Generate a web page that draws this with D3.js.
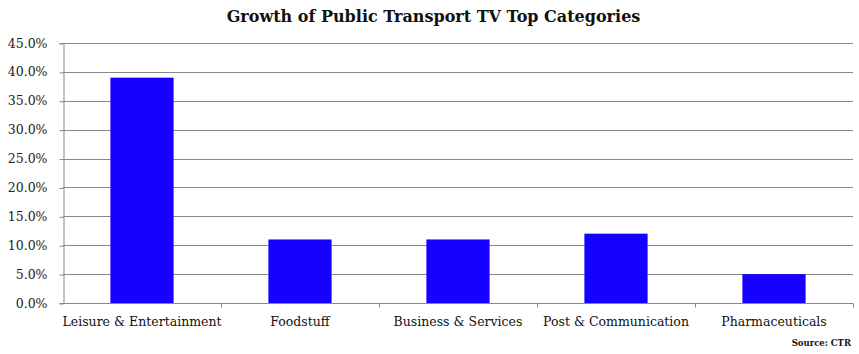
<!DOCTYPE html>
<html>
<head>
<meta charset="utf-8">
<script src="https://cdn.jsdelivr.net/npm/d3@7"></script>
<style>
  body { margin: 0; background: #fff; }
  text { font-family: Georgia, "DejaVu Serif", serif; }
</style>
</head>
<body>
<div id="chart"></div>
<script>
// growth by category
const categories = ["Leisure & Entertainment", "Foodstuff", "Business & Services", "Post & Communication", "Pharmaceuticals"];
const growth = [0.39, 0.11, 0.11, 0.12, 0.05];
const yTicks = [0, 0.05, 0.10, 0.15, 0.20, 0.25, 0.30, 0.35, 0.40, 0.45];

const width = 859, height = 354;
const margin = { top: 43, right: 6, bottom: 51, left: 63 };

const svg = d3.select("#chart")
  .append("svg")
  .attr("width", width)
  .attr("height", height);

const x = d3.scaleBand()
  .domain(categories)
  .range([margin.left, width - margin.right])
  .paddingInner(0.6)
  .paddingOuter(0.3);

const y = d3.scaleLinear()
  .domain([0, 0.45])
  .range([height - margin.bottom, margin.top]);

// gridlines
svg.append("g")
  .attr("stroke", "#898989")
  .attr("stroke-width", 1)
  .selectAll("line")
  .data(yTicks)
  .join("line")
  .attr("x1", margin.left)
  .attr("x2", width - margin.right)
  .attr("y1", d => Math.round(y(d)) + 0.5)
  .attr("y2", d => Math.round(y(d)) + 0.5);

// bars
svg.append("g")
  .attr("fill", "#1600ff")
  .selectAll("rect")
  .data(growth)
  .join("rect")
  .attr("x", (d, i) => x(categories[i]))
  .attr("y", d => y(d))
  .attr("width", x.bandwidth())
  .attr("height", d => y(0) - y(d));

// y axis
const yAxis = svg.append("g")
  .attr("transform", `translate(${margin.left + 0.5},0)`)
  .call(d3.axisLeft(y).tickValues(yTicks).tickFormat(d3.format(".1%")).tickSize(4).tickPadding(12));
yAxis.selectAll("line, path").attr("stroke", "#898989");
yAxis.selectAll("text").attr("font-size", 12.5).attr("fill", "#222");
yAxis.selectAll(".tick line").attr("transform", "translate(0,0.5)");

// x axis, ticks sit on the band boundaries
const xAxis = svg.append("g")
  .attr("transform", `translate(0,${Math.round(y(0)) + 0.5})`);
xAxis.append("line")
  .attr("x1", margin.left)
  .attr("x2", width - margin.right)
  .attr("stroke", "#898989");
const step = x.step();
xAxis.selectAll("line.tk")
  .data(categories)
  .join("line")
  .attr("class", "tk")
  .attr("x1", d => Math.round(x(d) - step * 0.3 + step) + 0.5)
  .attr("x2", d => Math.round(x(d) - step * 0.3 + step) + 0.5)
  .attr("y1", 0)
  .attr("y2", 4)
  .attr("stroke", "#898989");
xAxis.selectAll("text")
  .data(categories)
  .join("text")
  .attr("x", d => x(d) + x.bandwidth() / 2)
  .attr("y", 22)
  .attr("text-anchor", "middle")
  .attr("font-size", 12.5)
  .attr("fill", "#111")
  .text(d => d);

// title
svg.append("text")
  .attr("x", width / 2 + 4)
  .attr("y", 22)
  .attr("text-anchor", "middle")
  .attr("font-size", 16)
  .attr("font-weight", "bold")
  .attr("fill", "#111")
  .text("Growth of Public Transport TV Top Categories");

// source note
svg.append("text")
  .attr("x", width - 8)
  .attr("y", 346)
  .attr("text-anchor", "end")
  .attr("font-size", 8.5)
  .attr("font-weight", "bold")
  .attr("fill", "#111")
  .text("Source: CTR");
</script>
</body>
</html>
